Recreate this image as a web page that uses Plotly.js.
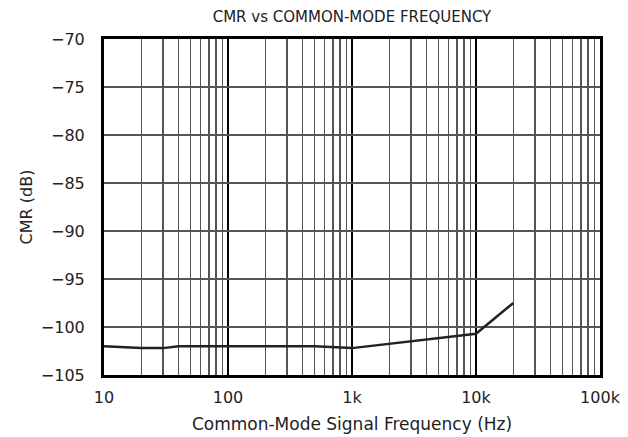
<!DOCTYPE html>
<html>
<head>
<meta charset="utf-8">
<script src="https://cdn.plot.ly/plotly-3.0.1.min.js"></script>
<style>html,body{margin:0;padding:0;background:#fff;}#chart{width:628px;height:437px;}</style>
</head>
<body>
<div id="chart"></div>
<script>
const freq = [10, 20, 30, 40, 100, 500, 1000, 10000, 20000];
const cmr = [-102.0, -102.2, -102.2, -102.0, -102.0, -102.0, -102.2, -100.7, -97.5];
const xTickVals = [10, 100, 1000, 10000, 100000];
const xTickText = ['10', '100', '1k', '10k', '100k'];
const xMinorVals = [20,30,40,50,60,70,80,90,200,300,400,500,600,700,800,900,2000,3000,4000,5000,6000,7000,8000,9000,20000,30000,40000,50000,60000,70000,80000,90000];
const yTickVals = [-105, -100, -95, -90, -85, -80, -75, -70];

const font = {family: 'DejaVu Sans, sans-serif', color: '#222'};

Plotly.newPlot('chart', [{
  x: freq, y: cmr, type: 'scatter', mode: 'lines',
  line: {color: '#222', width: 2.5}, hoverinfo: 'skip'
}], {
  width: 628, height: 437,
  margin: {l: 104, r: 28, t: 39, b: 62},
  paper_bgcolor: '#fff', plot_bgcolor: '#fff',
  showlegend: false,
  font: Object.assign({size: 16}, font),
  title: {text: 'CMR vs COMMON-MODE FREQUENCY', font: Object.assign({size: 15}, font),
          xref: 'paper', x: 0.5, xanchor: 'center', yref: 'container', y: 1 - 17/437, yanchor: 'middle'},
  xaxis: {
    type: 'log', range: [1, 5], tickmode: 'array', tickvals: xTickVals, ticktext: xTickText,
    showgrid: true, gridcolor: '#000', gridwidth: 2,
    minor: {tickmode: 'array', tickvals: xMinorVals, showgrid: true, gridcolor: '#555', gridwidth: 1.5, ticks: ''},
    showline: true, linecolor: '#000', linewidth: 3, mirror: true,
    ticks: 'outside', ticklen: 6, tickcolor: 'rgba(0,0,0,0)',
    tickfont: Object.assign({size: 16}, font), zeroline: false, automargin: false,
    title: {text: 'Common-Mode Signal Frequency (Hz)', font: Object.assign({size: 17}, font), standoff: 12}
  },
  yaxis: {
    range: [-105, -70], tickmode: 'array', tickvals: yTickVals,
    showgrid: true, gridcolor: '#555', gridwidth: 1.5,
    showline: true, linecolor: '#000', linewidth: 3, mirror: true,
    ticks: 'outside', ticklen: 13, tickcolor: 'rgba(0,0,0,0)',
    tickfont: Object.assign({size: 16}, font), zeroline: false, automargin: false,
    title: {text: 'CMR (dB)', font: Object.assign({size: 16}, font), standoff: 5}
  }
}, {staticPlot: true});
</script>
</body>
</html>
